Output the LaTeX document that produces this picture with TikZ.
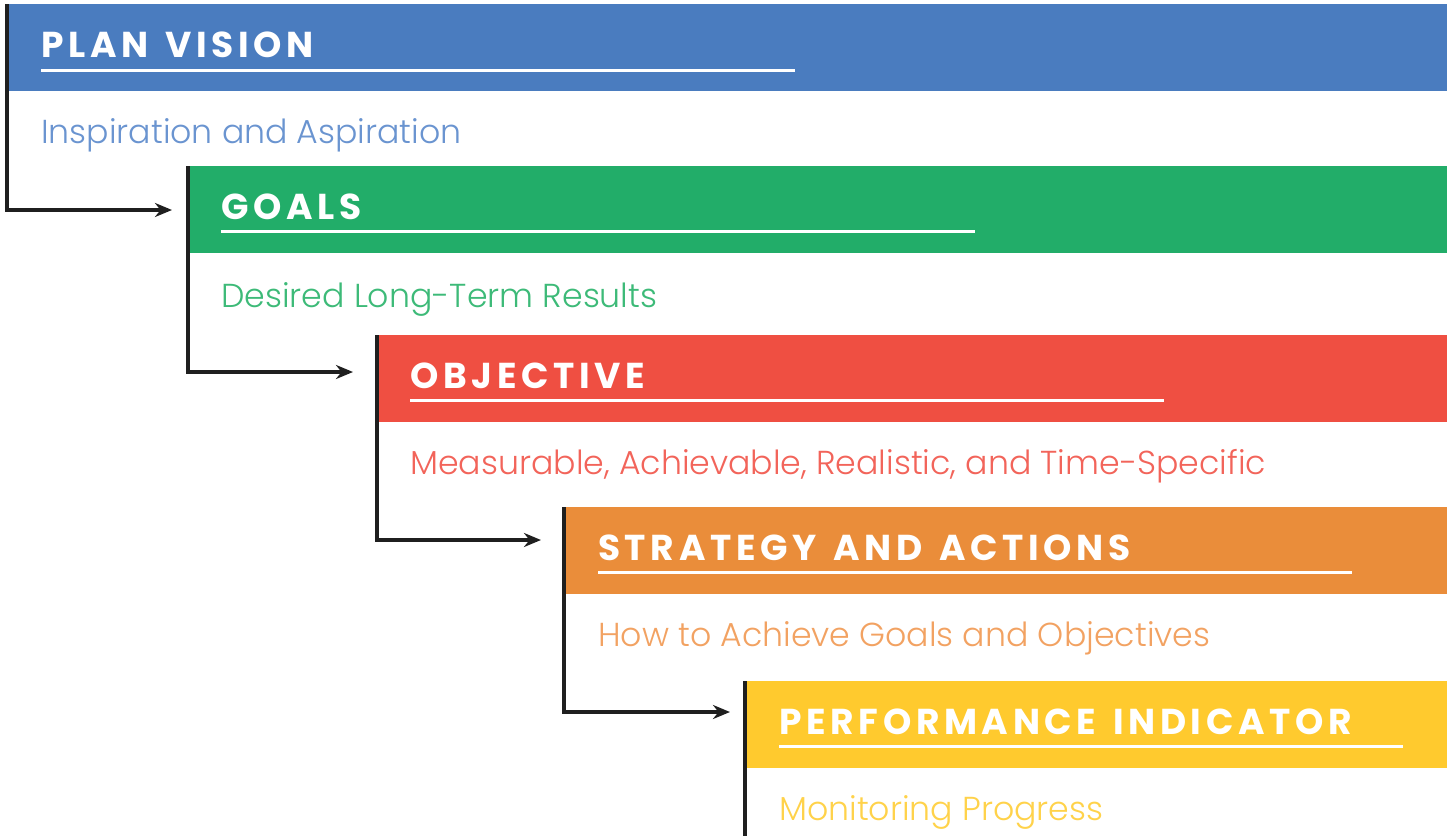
\documentclass[tikz,border=0pt]{standalone}
\usepackage{fontspec}
\usetikzlibrary{arrows.meta}
\newfontfamily\headfont{Poppins}[LetterSpace=13,WordSpace=1.35]
\IfFontExistsTF{Poppins-Light.ttf}{\newfontfamily\subfont{Poppins-Light.ttf}}{%
 \IfFontExistsTF{Poppins Light}{\newfontfamily\subfont{Poppins Light}}{%
  \IfFontExistsTF{Lato Light}{\newfontfamily\subfont{Lato Light}}{%
   \newfontfamily\subfont{Poppins}}}}
\definecolor{cblue}{HTML}{4A7CBF}
\definecolor{cgreen}{HTML}{22AD69}
\definecolor{cred}{HTML}{EF4F42}
\definecolor{corange}{HTML}{EA8D3A}
\definecolor{cyellow}{HTML}{FFCA2E}
\definecolor{tblue}{HTML}{6A94D0}
\definecolor{tgreen}{HTML}{3DBA78}
\definecolor{tred}{HTML}{F2645A}
\definecolor{torange}{HTML}{F2A262}
\definecolor{tyellow}{HTML}{FFD24A}
\tikzset{
  band/.style={rectangle, inner sep=0pt, anchor=north west, minimum height=87pt},
  head/.style={anchor=base west, inner sep=0pt, text=white, font=\headfont\bfseries\fontsize{36}{40}\selectfont},
  sub/.style={anchor=base west, inner sep=0pt, font=\subfont\fontsize{33.2}{40}\selectfont},
  uline/.style={white, line width=3pt},
  link/.style={black!88, line width=3.2pt, -{Stealth[length=17pt,width=14pt]}},
  edge/.style={black!88, line width=3.2pt}
}
\begin{document}
\begin{tikzpicture}[x=1pt,y=-1pt]
\useasboundingbox (0,0) rectangle (1452,836);
% bands
\node[band, fill=cblue,   minimum width=1441pt] (b1) at (6,4) {};
\node[band, fill=cgreen,  minimum width=1260pt] (b2) at (187,166) {};
\node[band, fill=cred,    minimum width=1071pt] (b3) at (376,335) {};
\node[band, fill=corange, minimum width=884pt]  (b4) at (563,507) {};
\node[band, fill=cyellow, minimum width=703pt]  (b5) at (744,681) {};
% headings
\node[head] (h1) at (41,57)  {PLAN VISION};
\node[head] (h2) at (221,219) {GOALS};
\node[head] (h3) at (410,388) {OBJECTIVE};
\node[head] (h4) at (598,560) {STRATEGY AND ACTIONS};
\node[head] (h5) at (779,734) {PERFORMANCE INDICATOR};
% underlines
\draw[uline] (41,70) -- (795,70);
\draw[uline] (221,231) -- (975,231);
\draw[uline] (410,400) -- (1164,400);
\draw[uline] (598,572) -- (1352,572);
\draw[uline] (779,746) -- (1403,746);
% subtitles
\node[sub, text=tblue]   (s1) at (41,143)  {Inspiration and Aspiration};
\node[sub, text=tgreen]  (s2) at (221,307) {Desired Long-Term Results};
\node[sub, text=tred]    (s3) at (410,474) {Measurable, Achievable, Realistic, and Time-Specific};
\node[sub, text=torange] (s4) at (598,646) {How to Achieve Goals and Objectives};
\node[sub, text=tyellow] (s5) at (779,820) {Monitoring Progress};
% connectors
\draw[link] ([xshift=1pt]b1.north west) |- ([xshift=-15pt,yshift=-44pt]b2.north west);
\draw[link] ([xshift=1pt]b2.north west) |- ([xshift=-23pt,yshift=-37pt]b3.north west);
\draw[link] ([xshift=1pt]b3.north west) |- ([xshift=-22pt,yshift=-33pt]b4.north west);
\draw[link] ([xshift=1pt]b4.north west) |- ([xshift=-14pt,yshift=-31pt]b5.north west);
\coordinate (end5) at (745,836);
\draw[edge] ([xshift=1pt]b5.north west) -- (end5);
\end{tikzpicture}
\end{document}
